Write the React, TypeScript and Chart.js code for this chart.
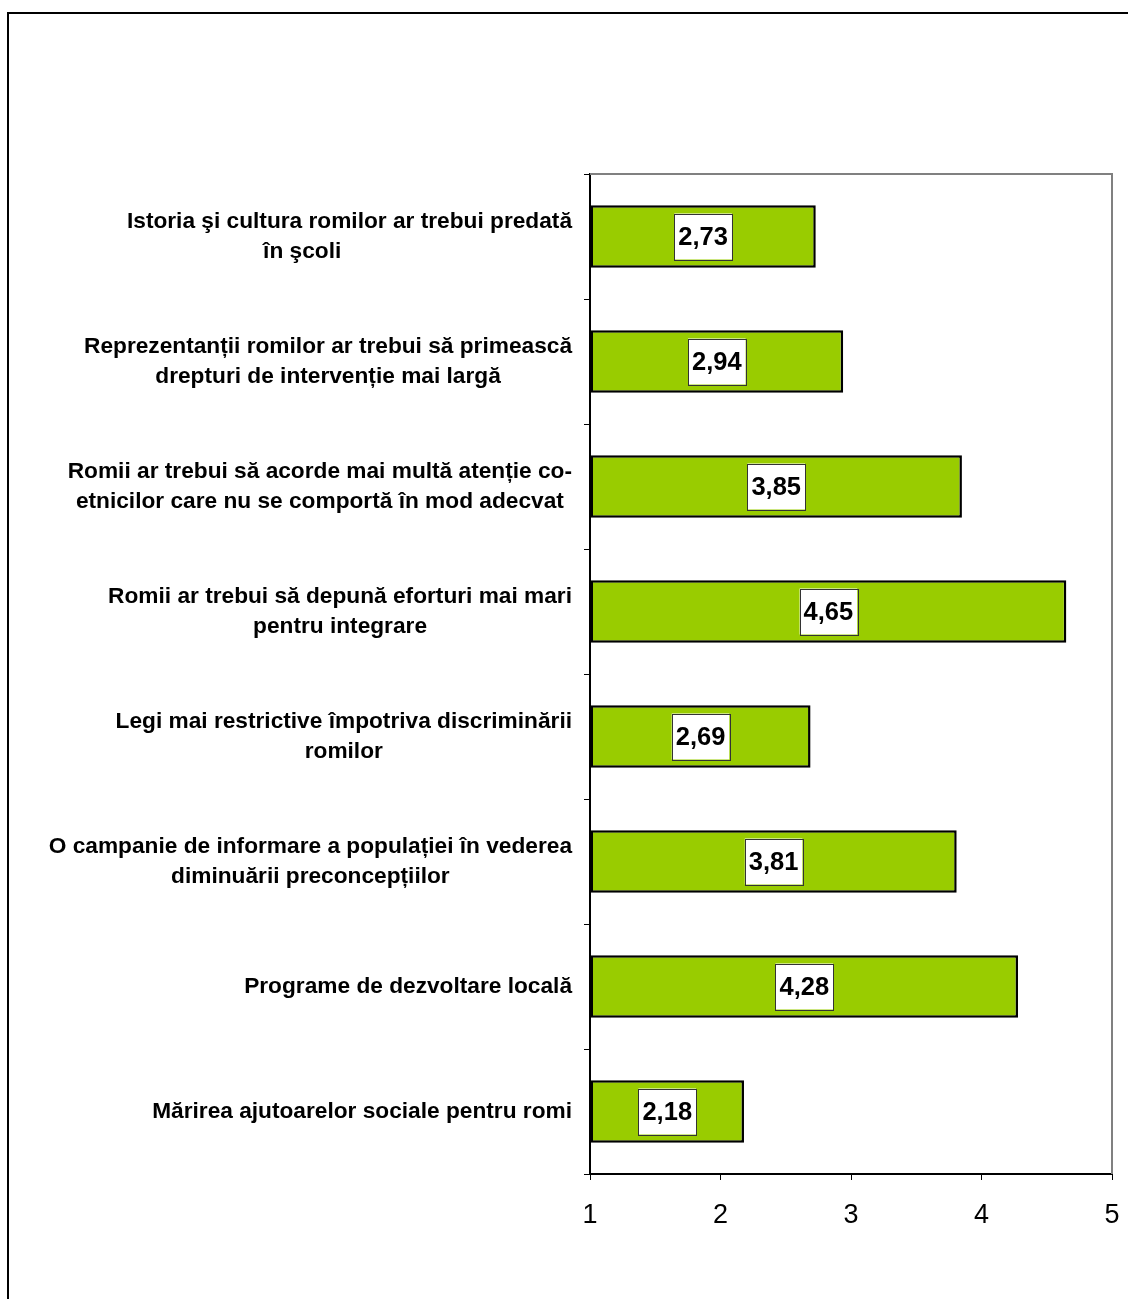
import React, { useEffect, useRef } from "react";
import { Chart, registerables } from "chart.js";

Chart.register(...registerables);

const categories: string[][] = [
  ["Istoria şi cultura romilor ar trebui predată", "în şcoli               "],
  ["Reprezentanții romilor ar trebui să primească", "drepturi de intervenție mai largă"],
  ["Romii ar trebui să acorde mai multă atenție co-", "etnicilor care nu se comportă în mod adecvat"],
  ["Romii ar trebui să depună eforturi mai mari", "pentru integrare"],
  ["Legi mai restrictive împotriva discriminării", "romilor"],
  ["O campanie de informare a populației în vederea", "diminuării preconcepțiilor"],
  ["Programe de dezvoltare locală"],
  ["Mărirea ajutoarelor sociale pentru romi"],
];

const values: number[] = [2.73, 2.94, 3.85, 4.65, 2.69, 3.81, 4.28, 2.18];
const valueLabels: string[] = ["2,73", "2,94", "3,85", "4,65", "2,69", "3,81", "4,28", "2,18"];
const xMin = 1;
const xMax = 5;
const xStep = 1;

const FONT = "'Liberation Sans', Arial, Helvetica, sans-serif";

const overlayPlugin = {
  id: "overlay",
  afterDraw(chart: any) {
    const ctx = chart.ctx as CanvasRenderingContext2D;
    const area = chart.chartArea;
    const yScale = chart.scales.y;
    ctx.save();

    // plot frame (top + right)
    ctx.strokeStyle = "#808080";
    ctx.lineWidth = 2;
    ctx.beginPath();
    ctx.moveTo(area.left, area.top);
    ctx.lineTo(area.right, area.top);
    ctx.lineTo(area.right, area.bottom);
    ctx.stroke();

    // category labels
    ctx.font = `bold 22.7px ${FONT}`;
    ctx.fillStyle = "#000";
    ctx.textBaseline = "middle";
    ctx.textAlign = "center";
    const rightEdge = area.left - 18;
    const lh = 30;
    categories.forEach((lines, i) => {
      const cy = yScale.getPixelForValue(i);
      const w = Math.max(...lines.map((l) => ctx.measureText(l).width));
      const cx = rightEdge - w / 2;
      lines.forEach((l, j) => {
        ctx.fillText(l, cx, cy + (j - (lines.length - 1) / 2) * lh);
      });
    });

    // value labels
    const meta = chart.getDatasetMeta(0);
    ctx.font = `bold 25.5px ${FONT}`;
    meta.data.forEach((bar: any, i: number) => {
      const p = bar.getProps(["x", "y", "base"], true);
      const cx = (p.x + p.base) / 2;
      const cy = p.y;
      const label = valueLabels[i];
      const tw = ctx.measureText(label).width;
      const bw = tw + 8;
      const bh = 46;
      ctx.fillStyle = "#fff";
      ctx.fillRect(cx - bw / 2, cy - bh / 2, bw, bh);
      ctx.strokeStyle = "#333";
      ctx.lineWidth = 1;
      ctx.strokeRect(Math.round(cx - bw / 2) + 0.5, Math.round(cy - bh / 2) + 0.5, Math.round(bw), bh);
      ctx.fillStyle = "#000";
      ctx.fillText(label, cx, cy + 1);
    });

    ctx.restore();
  },
};

export default function App() {
  const ref = useRef<HTMLCanvasElement | null>(null);

  useEffect(() => {
    if (!ref.current) return;
    const chart = new Chart(ref.current, {
      type: "bar",
      data: {
        labels: categories.map((c) => c.join(" ").trim()),
        datasets: [
          {
            data: values,
            base: xMin,
            backgroundColor: "#99CC00",
            borderColor: "#000",
            borderWidth: 2.5,
            borderSkipped: false,
            barPercentage: 0.5,
            categoryPercentage: 1,
          } as any,
        ],
      },
      options: {
        indexAxis: "y",
        responsive: false,
        animation: false,
        devicePixelRatio: 1,
        layout: { padding: { top: 174, right: 16, left: 0, bottom: 0 } },
        plugins: {
          legend: { display: false },
          tooltip: { enabled: false },
        },
        scales: {
          x: {
            type: "linear",
            min: xMin,
            max: xMax,
            ticks: {
              stepSize: xStep,
              color: "#000",
              font: { family: FONT, size: 27 },
              padding: 19,
            },
            grid: { drawOnChartArea: false, tickLength: 6, color: "#000", lineWidth: 1 },
            border: { color: "#000", width: 2 },
            afterFit: (s: any) => {
              s.height = 125;
              s.paddingLeft = 0;
              s.paddingRight = 0;
            },
          },
          y: {
            type: "category",
            ticks: { display: false },
            grid: { drawOnChartArea: false, tickLength: 6, color: "#000", lineWidth: 1, offset: true },
            border: { color: "#000", width: 2 },
            afterFit: (s: any) => {
              s.width = 590;
              s.paddingTop = 0;
              s.paddingBottom = 0;
            },
          },
        },
      },
      plugins: [overlayPlugin],
    });
    return () => chart.destroy();
  }, []);

  return (
    <>
      <div
        style={{
          position: "absolute",
          left: 7,
          top: 12,
          width: 1121,
          height: 1287,
          borderTop: "2px solid #000",
          borderLeft: "2px solid #000",
          boxSizing: "border-box",
        }}
      />
      <canvas
        ref={ref}
        width={1128}
        height={1299}
        style={{ position: "absolute", left: 0, top: 0, width: 1128, height: 1299 }}
      />
    </>
  );
}
